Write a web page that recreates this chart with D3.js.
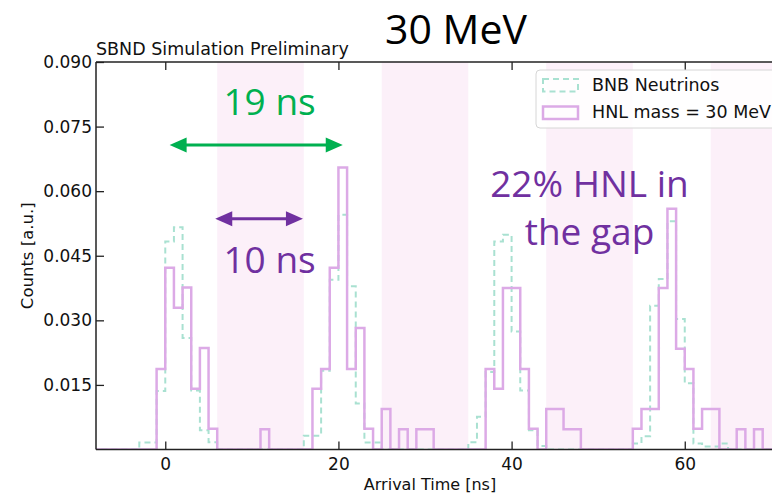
<!DOCTYPE html>
<html>
<head>
<meta charset="utf-8">
<script src="https://cdn.jsdelivr.net/npm/d3@7"></script>
<style>
  body { margin: 0; background: #fff; }
  svg { display: block; font-family: "DejaVu Sans", sans-serif; }
</style>
</head>
<body>
<svg id="chart" width="772" height="496"></svg>
<script>
// Histogram contents, 1 ns bins: [bin start (ns), normalised counts]
const bnbBins = [
  [-3, 0.0016], [-2, 0.0016], [-1, 0.0136], [0, 0.0483], [1, 0.0516], [2, 0.0259],
  [3, 0.0137], [4, 0.0045], [5, 0.0017],
  [16, 0.0032], [17, 0.0032], [18, 0.0183], [19, 0.0394], [20, 0.0545], [21, 0.0379],
  [22, 0.0107], [23, 0.0016], [24, 0.0016],
  [35, 0.0017], [36, 0.0076], [37, 0.0180], [38, 0.0483], [39, 0.0499], [40, 0.0274],
  [41, 0.0137], [42, 0.0045], [43, 0.0008],
  [54, 0.0014], [55, 0.0031], [56, 0.0334], [57, 0.0396], [58, 0.0530], [59, 0.0303],
  [60, 0.0154], [61, 0.0014], [62, 0.0007], [63, 0.0007], [64, 0.0014]
];
const hnlBins = [
  [-1, 0.0187], [0, 0.0422], [1, 0.0329], [2, 0.0376], [3, 0.0141], [4, 0.0236], [5, 0.0048],
  [11, 0.0047],
  [17, 0.0141], [18, 0.0187], [19, 0.0422], [20, 0.0655], [21, 0.0187], [22, 0.0282], [23, 0.0048],
  [25, 0.0094], [27, 0.0047], [29, 0.0047], [30, 0.0047],
  [37, 0.0187], [38, 0.0141], [39, 0.0375], [40, 0.0375], [41, 0.0187], [42, 0.0048],
  [44, 0.0094], [45, 0.0094], [46, 0.0047], [47, 0.0047],
  [54, 0.0048], [55, 0.0094], [56, 0.0094], [57, 0.0375], [58, 0.0559], [59, 0.0234],
  [60, 0.0187], [61, 0.0048], [62, 0.0094], [63, 0.0094], [66, 0.0047], [68, 0.0047]
];

// gaps between bunches (shaded)
const gapStarts = [6, 25, 44, 63];
const gapEnds = [16, 35, 54, 73];

const xTicks = [0, 20, 40, 60];
const yTicks = [0.015, 0.030, 0.045, 0.060, 0.075, 0.090];

const seriesNames = ["BNB Neutrinos", "HNL mass = 30 MeV"];

const svg = d3.select("#chart");
const margin = {left: 96, top: 62, bottom: 449.5, right: 780};

const x = d3.scaleLinear().domain([-8, 71]).range([margin.left, margin.right]);
const y = d3.scaleLinear().domain([0, 0.09]).range([margin.bottom, margin.top]);

svg.append("defs").append("clipPath").attr("id", "plotclip")
  .append("rect")
  .attr("x", margin.left).attr("y", margin.top)
  .attr("width", margin.right - margin.left)
  .attr("height", margin.bottom - margin.top);

const plot = svg.append("g").attr("clip-path", "url(#plotclip)");

// shaded gap bands
plot.selectAll(".gap")
  .data(gapStarts)
  .enter()
  .append("rect")
  .attr("class", "gap")
  .attr("x", d => x(d))
  .attr("width", (d, i) => x(gapEnds[i]) - x(d))
  .attr("y", margin.top)
  .attr("height", margin.bottom - margin.top)
  .attr("fill", "#fcf0f9");

// step outline like matplotlib histtype='step'
function stepPoints(bins) {
  const lookup = new Map(bins);
  const pts = [[-12, 0]];
  for (let t = -12; t < 76; t++) {
    const v = lookup.get(t) || 0;
    pts.push([t, v], [t + 1, v]);
  }
  pts.push([76, 0]);
  return pts;
}

const line = d3.line().x(d => x(d[0])).y(d => y(d[1]));

plot.append("path")
  .datum(stepPoints(bnbBins))
  .attr("fill", "none")
  .attr("stroke", "#a9e1d1")
  .attr("stroke-width", 2)
  .attr("stroke-dasharray", "6,4")
  .attr("d", line);

plot.append("path")
  .datum(stepPoints(hnlBins))
  .attr("fill", "none")
  .attr("stroke", "#dcaae6")
  .attr("stroke-width", 2.5)
  .attr("d", line);

// axes: ticks pointing inward, on both sides
const axisCol = "#222";
svg.append("g")
  .attr("transform", `translate(0,${margin.bottom})`)
  .call(d3.axisBottom(x).tickValues(xTicks).tickSizeInner(-8).tickSizeOuter(0).tickPadding(8))
  .call(g => g.select(".domain").remove());
svg.append("g")
  .attr("transform", `translate(0,${margin.top})`)
  .call(d3.axisTop(x).tickValues(xTicks).tickSizeInner(-8).tickSizeOuter(0).tickFormat(""))
  .call(g => g.select(".domain").remove());
svg.append("g")
  .attr("transform", `translate(${margin.left},0)`)
  .call(d3.axisLeft(y).tickValues(yTicks).tickSizeInner(-8).tickSizeOuter(0).tickPadding(4).tickFormat(d3.format(".3f")))
  .call(g => g.select(".domain").remove());

svg.selectAll(".tick line").attr("stroke", axisCol).attr("stroke-width", 1.3);
svg.selectAll(".tick text").attr("font-size", "17px").attr("fill", "#111")
  .attr("font-family", "DejaVu Sans, sans-serif");

// spines
svg.append("line").attr("x1", margin.left).attr("x2", 772).attr("y1", margin.bottom).attr("y2", margin.bottom)
  .attr("stroke", axisCol).attr("stroke-width", 1.5);
svg.append("line").attr("x1", margin.left).attr("x2", 772).attr("y1", margin.top).attr("y2", margin.top)
  .attr("stroke", axisCol).attr("stroke-width", 1.5);
svg.append("line").attr("x1", margin.left).attr("x2", margin.left).attr("y1", margin.top).attr("y2", margin.bottom)
  .attr("stroke", axisCol).attr("stroke-width", 1.5);

// axis labels
svg.append("text")
  .attr("x", (margin.left + margin.right) / 2 - 8)
  .attr("y", 490)
  .attr("text-anchor", "middle")
  .attr("font-size", "16px")
  .attr("fill", "#111")
  .text("Arrival Time [ns]");

svg.append("text")
  .attr("transform", `translate(33,${(margin.top + margin.bottom) / 2}) rotate(-90)`)
  .attr("text-anchor", "middle")
  .attr("font-size", "16.5px")
  .attr("fill", "#111")
  .text("Counts [a.u.]");

svg.append("text")
  .attr("x", margin.left)
  .attr("y", 55)
  .attr("font-size", "17.5px")
  .attr("fill", "#111")
  .text("SBND Simulation Preliminary");

// title
svg.append("text")
  .attr("x", 456)
  .attr("y", 44)
  .attr("text-anchor", "middle")
  .attr("font-family", "Open Sans, sans-serif")
  .attr("font-size", "41px")
  .attr("fill", "#000")
  .text("30 MeV");

// legend
const legend = svg.append("g");
legend.append("rect")
  .attr("x", 536).attr("y", 70).attr("width", 250).attr("height", 58).attr("rx", 4)
  .attr("fill", "white").attr("fill-opacity", 0.85)
  .attr("stroke", "#d6d6d6");
legend.append("rect")
  .attr("x", 543).attr("y", 79).attr("width", 35).attr("height", 12.5)
  .attr("fill", "none").attr("stroke", "#a9e1d1").attr("stroke-width", 2)
  .attr("stroke-dasharray", "6,4");
legend.append("rect")
  .attr("x", 543).attr("y", 106.5).attr("width", 35).attr("height", 12.5)
  .attr("fill", "none").attr("stroke", "#dcaae6").attr("stroke-width", 2.5);
legend.selectAll(".ltext")
  .data(seriesNames)
  .enter()
  .append("text")
  .attr("x", 592)
  .attr("y", (d, i) => 91 + i * 27)
  .attr("font-size", "17.5px")
  .attr("fill", "#111")
  .text(d => d);

// annotations
const green = "#00b050", purple = "#7030a0";

function dblArrow(t0, t1, v, col) {
  const y0 = y(v), xa = x(t0), xb = x(t1), head = 17, hw = 7.5;
  svg.append("line")
    .attr("x1", xa + head - 2).attr("x2", xb - head + 2)
    .attr("y1", y0).attr("y2", y0)
    .attr("stroke", col).attr("stroke-width", 3);
  svg.append("path")
    .attr("d", `M${xa},${y0}L${xa + head},${y0 - hw}L${xa + head},${y0 + hw}Z`)
    .attr("fill", col);
  svg.append("path")
    .attr("d", `M${xb},${y0}L${xb - head},${y0 - hw}L${xb - head},${y0 + hw}Z`)
    .attr("fill", col);
}

dblArrow(0.5, 20.5, 0.0707, green);
dblArrow(5.77, 15.9, 0.0536, purple);

function note(t, v, txt, col, size) {
  svg.append("text")
    .attr("x", x(t)).attr("y", y(v))
    .attr("text-anchor", "middle")
    .attr("font-family", "Open Sans, sans-serif")
    .attr("font-size", size)
    .attr("fill", col)
    .text(txt);
}

note(12.05, 0.0778, "19 ns", green, "37px");
note(12.05, 0.0409, "10 ns", purple, "37px");
note(49, 0.0586, "22% HNL in", purple, "37px");
note(49, 0.0476, "the gap", purple, "37px");
</script>
</body>
</html>
